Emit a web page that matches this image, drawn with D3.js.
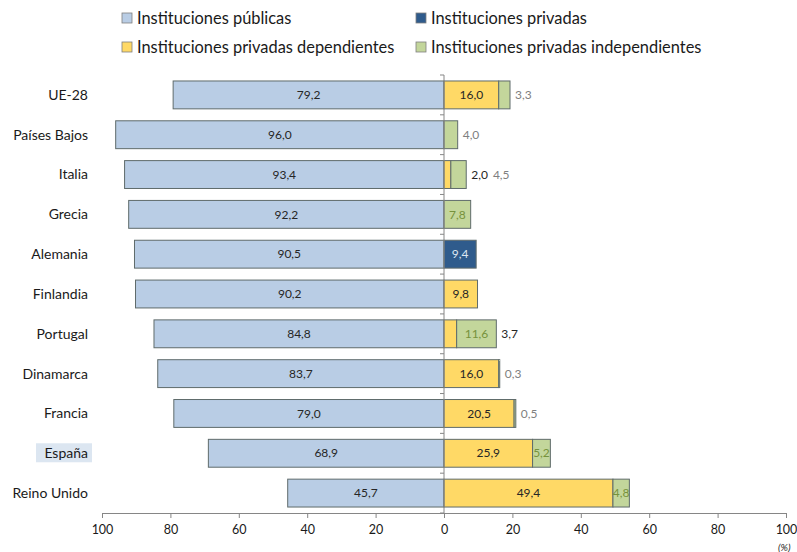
<!DOCTYPE html>
<html>
<head>
<meta charset="utf-8">
<script src="https://cdn.jsdelivr.net/npm/d3@7"></script>
<style>
  body { margin: 0; background: #fff; }
  svg { font-family: Lato, "Open Sans", sans-serif; }
</style>
</head>
<body>
<svg width="797" height="552"></svg>
<script>
var width = 797,
    height = 552;

// data
var countries = ["UE-28", "Países Bajos", "Italia", "Grecia", "Alemania", "Finlandia",
                 "Portugal", "Dinamarca", "Francia", "España", "Reino Unido"];
var publicas      = [79.2, 96.0, 93.4, 92.2, 90.5, 90.2, 84.8, 83.7, 79.0, 68.9, 45.7];
var privadas      = [0, 0, 0, 0, 9.4, 0, 0, 0, 0, 0, 0];
var dependientes  = [16.0, 0, 2.0, 0, 0, 9.8, 3.7, 16.0, 20.5, 25.9, 49.4];
var independientes = [3.3, 4.0, 4.5, 7.8, 0, 0, 11.6, 0.3, 0.5, 5.2, 4.8];
var xTicks = [-100, -80, -60, -40, -20, 0, 20, 40, 60, 80, 100];

var legendItems = [
  { key: "pub", label: "Instituciones públicas" },
  { key: "priv", label: "Instituciones privadas" },
  { key: "dep", label: "Instituciones privadas dependientes" },
  { key: "ind", label: "Instituciones privadas independientes" }
];

var fills = { pub: "#b9cde5", priv: "#2f5b8c", dep: "#ffd966", ind: "#c3d69b" };
var insideText = { pub: "#262626", priv: "#dce6f1", dep: "#262626", ind: "#76923c" };
var outsideText = { dep: "#262626", ind: "#7f7f7f" };

var svg = d3.select("svg");

var x = d3.scaleLinear().domain([-100, 100]).range([102, 786]);
var y = d3.scaleBand().domain(countries).range([75, 513]).paddingInner(0.3).paddingOuter(0.15);

// build segments per country
var rows = countries.map(function(c, i) {
  var segs = [{ key: "pub", x0: -publicas[i], x1: 0, v: publicas[i] }];
  var acc = 0;
  [["priv", privadas[i]], ["dep", dependientes[i]], ["ind", independientes[i]]].forEach(function(p) {
    if (p[1] > 0) {
      segs.push({ key: p[0], x0: acc, x1: acc + p[1], v: p[1] });
      acc += p[1];
    }
  });
  return { country: c, segs: segs, end: acc };
});

var fmt = function(v) { return d3.format(".1f")(v).replace(".", ","); };

// España highlight
svg.append("rect")
    .attr("x", 36).attr("y", y("España") + y.bandwidth() / 2 - 10)
    .attr("width", 56).attr("height", 19)
    .attr("fill", "#dce6f1");

// country labels
svg.selectAll(".country")
    .data(countries)
  .enter().append("text")
    .attr("class", "country")
    .attr("x", 88)
    .attr("y", function(d) { return y(d) + y.bandwidth() / 2; })
    .attr("dy", "0.35em")
    .attr("text-anchor", "end")
    .attr("font-size", 14)
    .attr("fill", "#1a1a1a")
    .text(function(d) { return d; });

var g = svg.selectAll(".row")
    .data(rows)
  .enter().append("g")
    .attr("class", "row")
    .attr("transform", function(d) { return "translate(0," + y(d.country) + ")"; });

g.selectAll("rect")
    .data(function(d) { return d.segs; })
  .enter().append("rect")
    .attr("x", function(d) { return x(d.x0); })
    .attr("width", function(d) { return x(d.x1) - x(d.x0); })
    .attr("height", y.bandwidth())
    .attr("fill", function(d) { return fills[d.key]; })
    .attr("stroke", "#5f6b6b")
    .attr("stroke-width", 1);

// labels: inside when the segment is wide enough, else after the bar end
g.each(function(row) {
  var sel = d3.select(this);
  var ox = x(row.end) + 5;
  row.segs.forEach(function(s) {
    var w = x(s.x1) - x(s.x0);
    var t = sel.append("text")
        .attr("y", y.bandwidth() / 2)
        .attr("dy", "0.35em")
        .attr("font-size", 12)
        .text(fmt(s.v));
    if (w >= 16) {
      t.attr("x", (x(s.x0) + x(s.x1)) / 2)
       .attr("text-anchor", "middle")
       .attr("fill", insideText[s.key]);
    } else {
      t.attr("x", ox)
       .attr("text-anchor", "start")
       .attr("fill", outsideText[s.key]);
      ox += t.node().getComputedTextLength() + 5;
    }
  });
});

// vertical zero axis with category ticks
var yb = countries.map(function(c) { return y(c) - y.step() * y.paddingInner() / 2; });
yb.push(513);
yb[0] = 75;
svg.append("line")
    .attr("x1", x(0)).attr("x2", x(0))
    .attr("y1", 75).attr("y2", 513)
    .attr("stroke", "#868686");
svg.selectAll(".ytick")
    .data(yb)
  .enter().append("line")
    .attr("x1", x(0) - 4).attr("x2", x(0))
    .attr("y1", function(d) { return d; }).attr("y2", function(d) { return d; })
    .attr("stroke", "#868686");

// bottom axis
var xAxis = d3.axisBottom(x)
    .tickValues(xTicks)
    .tickSize(5)
    .tickFormat(function(d) { return Math.abs(d); });
var ax = svg.append("g")
    .attr("transform", "translate(0,513)")
    .call(xAxis);
ax.select(".domain").attr("stroke", "#868686");
ax.selectAll(".tick line").attr("stroke", "#868686");
ax.selectAll(".tick text")
    .attr("font-family", "Lato, sans-serif")
    .attr("font-size", 12.5)
    .attr("fill", "#1a1a1a")
    .attr("dy", "1.05em");

svg.append("text")
    .attr("x", 778).attr("y", 551)
    .attr("font-size", 10)
    .attr("font-style", "italic")
    .attr("fill", "#262626")
    .text("(%)");

// legend
var leg = svg.selectAll(".legend")
    .data(legendItems)
  .enter().append("g")
    .attr("class", "legend")
    .attr("transform", function(d, i) {
      return "translate(" + (i % 2 === 0 ? 122 : 416) + "," + (i < 2 ? 18 : 47) + ")";
    });
leg.append("rect")
    .attr("x", 0).attr("y", -5)
    .attr("width", 10).attr("height", 10)
    .attr("fill", function(d) { return fills[d.key]; })
    .attr("stroke", "#7f7f7f")
    .attr("stroke-width", 0.8);
leg.append("text")
    .attr("x", 15)
    .attr("dy", "0.35em")
    .attr("font-size", 16.4)
    .attr("fill", "#1a1a1a")
    .text(function(d) { return d.label; });
</script>
</body>
</html>
